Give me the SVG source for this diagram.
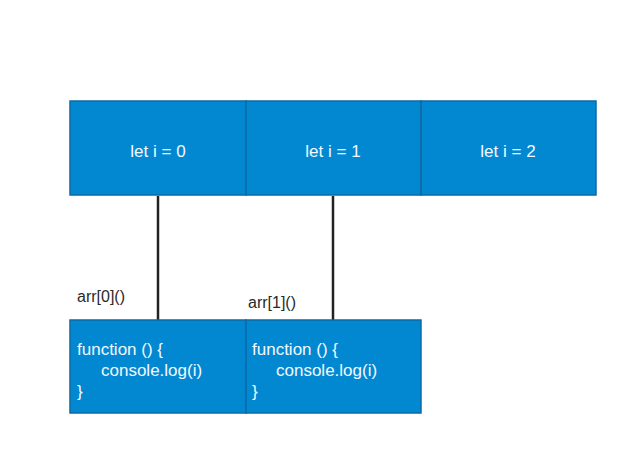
<svg xmlns="http://www.w3.org/2000/svg" width="619" height="466" viewBox="0 0 619 466">
<style>
.box{fill:#0288d1;stroke:#0b6aa6;stroke-width:1.5}
.t{font-family:"Liberation Sans",Arial,sans-serif;font-size:17px;fill:#f2f9ff}
.c{text-anchor:middle}
.lbl{font-family:"Liberation Sans",Arial,sans-serif;font-size:16px;fill:#2a2a2a}
.ln{stroke:#222;stroke-width:2.5;fill:none}
</style>
<rect width="619" height="466" fill="#ffffff"/>
<g id="connectors">
<line class="ln" x1="158" y1="196" x2="158" y2="320"/>
<line class="ln" x1="333" y1="196" x2="333" y2="320"/>
<text class="lbl" x="77" y="302">arr[0]()</text>
<text class="lbl" x="248" y="308">arr[1]()</text>
</g>
<g id="let0"><rect class="box" x="70" y="101" width="176" height="94"/><text class="t c" x="158" y="157">let i = 0</text></g>
<g id="let1"><rect class="box" x="246" y="101" width="175" height="94"/><text class="t c" x="333" y="157">let i = 1</text></g>
<g id="let2"><rect class="box" x="421" y="101" width="175" height="94"/><text class="t c" x="508" y="157">let i = 2</text></g>
<g id="fn0"><rect class="box" x="70" y="320" width="176" height="93"/>
<text class="t" x="77" y="355">function () {</text><text class="t" x="101" y="376">console.log(i)</text><text class="t" x="77" y="397">}</text></g>
<g id="fn1"><rect class="box" x="246" y="320" width="175" height="93"/>
<text class="t" x="252" y="355">function () {</text><text class="t" x="276" y="376">console.log(i)</text><text class="t" x="252" y="397">}</text></g>
</svg>
